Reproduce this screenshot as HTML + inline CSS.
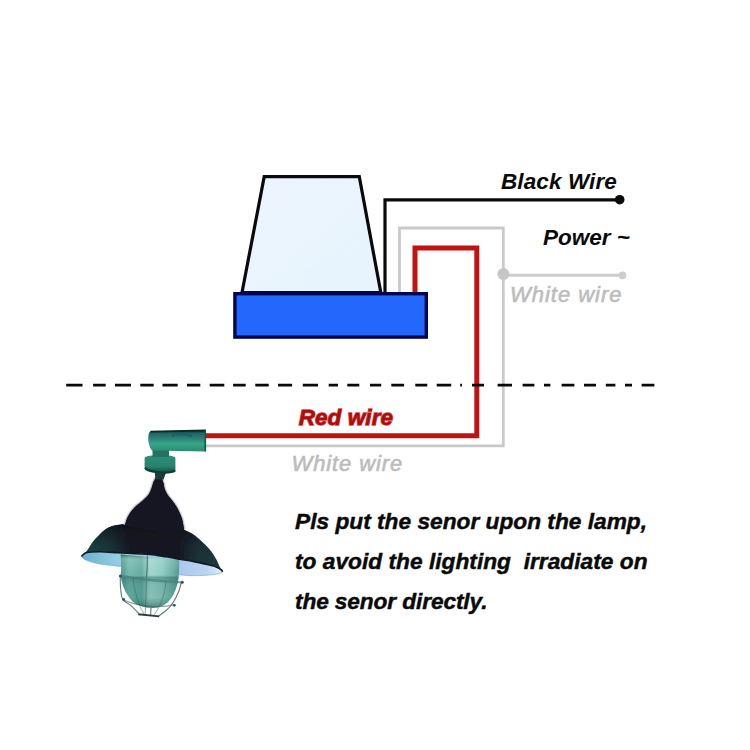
<!DOCTYPE html>
<html>
<head>
<meta charset="utf-8">
<title>Photocell sensor wiring diagram</title>
<style>
html,body{margin:0;padding:0;background:#fff;}
body{width:750px;height:750px;overflow:hidden;font-family:"Liberation Sans",sans-serif;}
svg{display:block;}
text{font-family:"Liberation Sans",sans-serif;font-weight:bold;font-style:italic;}
</style>
</head>
<body>
<svg width="750" height="750" viewBox="0 0 750 750">
<defs>
  <linearGradient id="cone" x1="0" y1="0" x2="1" y2="1">
    <stop offset="0" stop-color="#edf5fd"/>
    <stop offset="1" stop-color="#e6f4fd"/>
  </linearGradient>
  <linearGradient id="cyl" x1="0" y1="0" x2="0" y2="1">
    <stop offset="0" stop-color="#0b2b29"/>
    <stop offset="0.14" stop-color="#1d6663"/>
    <stop offset="0.4" stop-color="#2b8379"/>
    <stop offset="0.64" stop-color="#3aa688"/>
    <stop offset="1" stop-color="#298a70"/>
  </linearGradient>
  <filter id="soft" x="-10%" y="-10%" width="120%" height="120%"><feGaussianBlur stdDeviation="0.7"/></filter>
  <filter id="soft2" x="-10%" y="-10%" width="120%" height="120%"><feGaussianBlur stdDeviation="1.2"/></filter>
</defs>
<rect width="750" height="750" fill="#ffffff"/>

<!-- wires -->
<g fill="none" stroke-linejoin="miter">
  <!-- gray (white) wire -->
  <path d="M399.5 293 V228 H503.3 V445.9 H206" stroke="#c9c9c9" stroke-width="2.8"/>
  <path d="M503.3 275.2 H622" stroke="#cdcdcd" stroke-width="3"/>
  <!-- red wire -->
  <path d="M415 294 V248 H476.8 V435.8 H205" stroke="#c21313" stroke-width="5"/>
  <!-- black wire -->
  <path d="M385 293 V199.8 H619" stroke="#0a0a0a" stroke-width="3.2"/>
</g>
<circle cx="619.7" cy="199.7" r="4.8" fill="#0a0a0a"/>
<circle cx="503.4" cy="274" r="6" fill="#c6c6c6"/>
<circle cx="622.5" cy="275.4" r="3.8" fill="#cdcdcd"/>

<!-- sensor -->
<path d="M264.2 176.7 H359.3 L380.8 292.5 H242 Z" fill="url(#cone)" stroke="#0a0a0a" stroke-width="3.2" stroke-linejoin="miter"/>
<rect x="234.9" y="293.7" width="191.4" height="43.4" fill="#2467fc" stroke="#03044f" stroke-width="3.4"/>

<!-- dashed line -->
<path id="dash" d="M66.2 385.2H82.5M93.1 385.2H105.7M115 385.2H131M140.3 385.2H153.7M162.5 385.2H177.7M187 385.2H200.3M209.7 385.2H224.3M233.1 385.2H245.7M255.3 385.2H268.7M278 385.2H292.1M302.8 385.2H318M328.7 385.2H338M347.3 385.2H359.3M370 385.2H381.2M391.3 385.2H404.1M415.3 385.2H427.3M436.7 385.2H451.2M460.2 385.2H462M472 385.2H484M497.6 385.2H512M522.6 385.2H534.4M544 385.2H550.4M561.6 385.2H574.4M584 385.2H596M605.8 385.2H615.4M625 385.2H632M641.6 385.2H654.4" stroke="#0a0a0a" stroke-width="2.8" fill="none"/>

<!-- labels -->
<text x="501" y="189.3" font-size="22.5" fill="#0a0a0a" textLength="115.8">Black Wire</text>
<text x="543" y="245.2" font-size="22.5" fill="#0a0a0a">Power ~</text>
<text x="510" y="302.3" font-size="22" fill="#bcbcbc" style="font-weight:normal" textLength="111.5" stroke="#bcbcbc" stroke-width="0.6">White wire</text>
<text x="298.7" y="425.2" font-size="22.5" fill="#ab0d0d" stroke="#e04545" stroke-width="1.3" paint-order="stroke" textLength="94.3">Red wire</text>
<text x="291.5" y="470.8" font-size="22" fill="#bcbcbc" style="font-weight:normal" textLength="110.7" stroke="#bcbcbc" stroke-width="0.6">White wire</text>
<text x="295" y="529.2" font-size="22.7" fill="#0a0a0a" stroke="#0a0a0a" stroke-width="0.45" textLength="352">Pls put the senor upon the lamp,</text>
<text x="295" y="569" font-size="22.7" fill="#0a0a0a" stroke="#0a0a0a" stroke-width="0.45" textLength="352.5" xml:space="preserve">to avoid the lighting  irradiate on</text>
<text x="295" y="609" font-size="22.7" fill="#0a0a0a" stroke="#0a0a0a" stroke-width="0.45" textLength="192.5">the senor directly.</text>

<!-- lamp -->
<g id="lamp">
<defs>
  <linearGradient id="shade" gradientUnits="userSpaceOnUse" x1="82" y1="0" x2="222" y2="0">
    <stop offset="0" stop-color="#1e4e4a"/>
    <stop offset="0.2" stop-color="#173a3b"/>
    <stop offset="0.36" stop-color="#191723"/>
    <stop offset="0.68" stop-color="#191723"/>
    <stop offset="0.82" stop-color="#1d3238"/>
    <stop offset="1" stop-color="#203a3e"/>
  </linearGradient>
  <linearGradient id="shadeV" gradientUnits="userSpaceOnUse" x1="0" y1="524" x2="0" y2="572">
    <stop offset="0" stop-color="#0d0f18" stop-opacity="0.75"/>
    <stop offset="0.45" stop-color="#0d0f18" stop-opacity="0.15"/>
    <stop offset="0.8" stop-color="#0d0f18" stop-opacity="0"/>
  </linearGradient>
  <linearGradient id="inner" gradientUnits="userSpaceOnUse" x1="82" y1="0" x2="222" y2="0">
    <stop offset="0" stop-color="#6cb0d2"/>
    <stop offset="0.25" stop-color="#94cde2"/>
    <stop offset="0.7" stop-color="#aac8ee"/>
    <stop offset="0.9" stop-color="#bfd4f4"/>
    <stop offset="1" stop-color="#e4eefa"/>
  </linearGradient>
  <linearGradient id="glass" gradientUnits="userSpaceOnUse" x1="120" y1="0" x2="180" y2="0">
    <stop offset="0" stop-color="#468a82"/>
    <stop offset="0.15" stop-color="#6fb6aa"/>
    <stop offset="0.36" stop-color="#5fa89c"/>
    <stop offset="0.5" stop-color="#9fd6cb"/>
    <stop offset="0.7" stop-color="#8ccbc0"/>
    <stop offset="0.9" stop-color="#62a89c"/>
    <stop offset="1" stop-color="#4a8c84"/>
  </linearGradient>
  <linearGradient id="glassV" gradientUnits="userSpaceOnUse" x1="0" y1="555" x2="0" y2="608">
    <stop offset="0" stop-color="#1d4d4c" stop-opacity="0.55"/>
    <stop offset="0.08" stop-color="#d0ece8" stop-opacity="0.25"/>
    <stop offset="0.36" stop-color="#d0ece8" stop-opacity="0.05"/>
    <stop offset="0.42" stop-color="#2d6f6a" stop-opacity="0.5"/>
    <stop offset="0.55" stop-color="#2d6f6a" stop-opacity="0.25"/>
    <stop offset="0.8" stop-color="#2d6f6a" stop-opacity="0.2"/>
    <stop offset="1" stop-color="#245e5a" stop-opacity="0.65"/>
  </linearGradient>
  <linearGradient id="collar" x1="0" y1="0" x2="0" y2="1">
    <stop offset="0" stop-color="#2f8f78"/>
    <stop offset="0.6" stop-color="#2a836d"/>
    <stop offset="1" stop-color="#124840"/>
  </linearGradient>
</defs>
<g filter="url(#soft)">
  <path d="M81.4 556.4C82.3 555.8 83.6 553.4 86.7 552.6C89.8 551.8 94.8 551.8 100.0 551.8C105.2 551.8 111.9 552.4 117.7 552.7C123.5 553.0 129.6 553.5 135.0 553.8C140.4 554.1 144.8 553.9 150.0 554.4C155.2 554.9 161.0 556.0 166.0 556.8C171.0 557.6 175.6 558.5 180.0 559.3C184.4 560.1 188.4 560.6 192.7 561.4C196.9 562.2 201.6 563.2 205.5 564.1C209.4 565.0 213.4 565.9 216.1 566.9C218.8 567.9 220.4 569.2 221.5 570.0C222.6 570.8 222.4 571.6 222.6 571.9C222.4 572.0 222.9 572.2 221.5 572.6C220.1 573.0 217.9 574.0 214.0 574.5C210.1 575.0 203.5 575.5 198.0 575.6C192.5 575.7 189.0 575.8 181.0 575.0C173.0 574.2 160.2 572.4 150.0 571.0C139.8 569.6 127.0 567.5 119.8 566.5C112.6 565.5 110.9 565.5 107.0 565.0C103.1 564.5 99.8 564.1 96.3 563.3C92.8 562.5 88.2 561.1 85.7 560.0C83.2 558.9 82.1 557.0 81.4 556.4Z" fill="url(#inner)"/>
  <path d="M81.4 556.4C82.1 557.0 83.2 558.9 85.7 560.0C88.2 561.1 92.8 562.5 96.3 563.3C99.8 564.1 103.1 564.5 107.0 565.0C110.9 565.5 112.6 565.5 119.8 566.5C127.0 567.5 139.8 569.6 150.0 571.0C160.2 572.4 173.0 574.2 181.0 575.0C189.0 575.8 192.5 575.7 198.0 575.6C203.5 575.5 210.1 575.0 214.0 574.5C217.9 574.0 220.1 573.0 221.5 572.6C222.9 572.2 222.4 572.0 222.6 571.9" fill="none" stroke="#6aa6b8" stroke-width="0.8" opacity="0.7"/>
  <path d="M120.7 554.6C120.8 556.5 121.2 562.7 121.2 566.3C121.2 569.9 120.6 572.8 120.9 576.0C121.2 579.2 121.9 582.3 123.0 585.5C124.1 588.7 125.6 592.1 127.5 595.0C129.4 597.9 131.6 601.0 134.5 603.0C137.4 605.0 141.8 606.4 145.2 607.2C148.6 608.0 151.7 608.2 154.8 607.8C157.9 607.4 161.1 606.5 163.8 605.0C166.5 603.5 169.1 601.0 171.0 598.5C172.9 596.0 174.3 592.7 175.5 589.8C176.7 586.9 177.4 584.3 178.0 581.3C178.6 578.3 178.8 575.5 179.0 572.0C179.2 568.5 179.2 562.0 179.3 560.0Z" fill="url(#glass)"/>
  <path d="M120.7 554.6C120.8 556.5 121.2 562.7 121.2 566.3C121.2 569.9 120.6 572.8 120.9 576.0C121.2 579.2 121.9 582.3 123.0 585.5C124.1 588.7 125.6 592.1 127.5 595.0C129.4 597.9 131.6 601.0 134.5 603.0C137.4 605.0 141.8 606.4 145.2 607.2C148.6 608.0 151.7 608.2 154.8 607.8C157.9 607.4 161.1 606.5 163.8 605.0C166.5 603.5 169.1 601.0 171.0 598.5C172.9 596.0 174.3 592.7 175.5 589.8C176.7 586.9 177.4 584.3 178.0 581.3C178.6 578.3 178.8 575.5 179.0 572.0C179.2 568.5 179.2 562.0 179.3 560.0Z" fill="url(#glassV)"/>
  <g fill="none" stroke="#3d605d" stroke-width="1.1" opacity="0.85">
    <path d="M147.3 555.5 C147.4 565 147 572 146.6 577"/>
    <path d="M120.3 577.0C120.3 578.8 120.2 584.3 120.6 588.0C121.0 591.7 121.0 596.4 122.8 599.4C124.6 602.4 128.6 603.4 131.3 605.8C134.0 608.2 137.6 612.3 138.8 613.6"/>
    <path d="M181.5 582.0C181.0 583.7 179.8 588.8 178.5 592.0C177.2 595.2 175.4 598.6 174.0 601.0C172.6 603.4 171.4 604.8 170.0 606.5C168.6 608.2 167.4 609.4 165.5 611.0C163.6 612.6 159.7 615.2 158.5 616.0"/>
    <path d="M146.6 578 C146 592 145.5 604 145.2 614.5" opacity="0.6"/>
    <path d="M151 608 L150.6 615.5"/>
    <path d="M133 579 C135 594 139 606 144 614" opacity="0.5"/>
    <path d="M166 581 C165 595 160 607 154 615" opacity="0.5"/>
    <path d="M120.3 575.6 C135 578.5 165 581.5 182 582.4" stroke-width="2.2" stroke="#4a7f7a" opacity="0.8"/>
    <path d="M123 599.5 C135 606 160 609 174.5 604.5" stroke-width="1.3" opacity="0.7"/>
  </g>
  <path d="M138.2 614.2 L159.2 616.4" stroke="#2c3c3c" stroke-width="1.9" fill="none"/>
  <circle cx="120.4" cy="576" r="1.5" fill="#35524f"/>
  <circle cx="182.3" cy="582.3" r="1.5" fill="#35524f"/>
  <circle cx="123.6" cy="599.5" r="1.4" fill="#35524f"/>
  <circle cx="174.3" cy="605.3" r="1.4" fill="#35524f"/>
</g>
<g filter="url(#soft)">
  <path d="M81.4 556.4C82.3 555.5 84.9 553.2 86.7 551.0C88.5 548.8 90.2 545.4 92.0 543.0C93.8 540.6 95.2 538.9 97.4 536.7C99.6 534.5 102.4 531.5 104.9 529.7C107.4 527.9 109.6 526.9 112.3 526.0C115.0 525.1 118.8 524.6 120.9 524.4C123.0 524.2 124.3 524.9 125.0 525.0C125.4 523.8 126.4 520.0 127.4 517.8C128.4 515.6 129.5 513.8 131.0 511.8C132.5 509.8 134.5 507.6 136.4 505.8C138.3 504.0 140.4 502.8 142.4 501.0C144.4 499.2 146.9 497.0 148.4 495.0C149.9 493.0 150.6 491.0 151.4 489.0C152.2 487.0 152.4 485.0 153.2 483.0C154.0 481.0 155.7 478.0 156.2 477.0L161 477C161.4 478.0 162.8 481.0 163.4 483.0C164.0 485.0 163.9 487.0 164.6 489.0C165.3 491.0 166.3 493.0 167.6 495.0C168.9 497.0 170.9 499.0 172.4 501.0C173.9 503.0 175.4 505.0 176.6 507.0C177.8 509.0 178.7 511.0 179.6 513.0C180.5 515.0 181.2 516.2 182.0 519.0C182.8 521.8 183.8 527.9 184.1 529.7C185.5 530.4 189.8 532.1 192.7 534.0C195.5 535.9 198.4 538.4 201.2 541.0C204.0 543.6 207.2 546.5 209.7 549.5C212.2 552.5 214.4 556.2 216.1 559.0C217.8 561.8 218.5 564.4 219.6 566.5C220.7 568.6 222.1 571.0 222.6 571.9C222.4 571.6 222.6 570.8 221.5 570.0C220.4 569.2 218.8 567.9 216.1 566.9C213.4 565.9 209.4 565.0 205.5 564.1C201.6 563.2 196.9 562.2 192.7 561.4C188.4 560.6 184.4 560.1 180.0 559.3C175.6 558.5 171.0 557.6 166.0 556.8C161.0 556.0 155.2 554.9 150.0 554.4C144.8 553.9 140.4 554.1 135.0 553.8C129.6 553.5 123.5 553.0 117.7 552.7C111.9 552.4 105.2 551.8 100.0 551.8C94.8 551.8 89.8 551.8 86.7 552.6C83.6 553.4 82.3 555.8 81.4 556.4Z" fill="url(#shade)"/>
  <path d="M81.4 556.4C82.3 555.5 84.9 553.2 86.7 551.0C88.5 548.8 90.2 545.4 92.0 543.0C93.8 540.6 95.2 538.9 97.4 536.7C99.6 534.5 102.4 531.5 104.9 529.7C107.4 527.9 109.6 526.9 112.3 526.0C115.0 525.1 118.8 524.6 120.9 524.4C123.0 524.2 124.3 524.9 125.0 525.0C125.4 523.8 126.4 520.0 127.4 517.8C128.4 515.6 129.5 513.8 131.0 511.8C132.5 509.8 134.5 507.6 136.4 505.8C138.3 504.0 140.4 502.8 142.4 501.0C144.4 499.2 146.9 497.0 148.4 495.0C149.9 493.0 150.6 491.0 151.4 489.0C152.2 487.0 152.4 485.0 153.2 483.0C154.0 481.0 155.7 478.0 156.2 477.0L161 477C161.4 478.0 162.8 481.0 163.4 483.0C164.0 485.0 163.9 487.0 164.6 489.0C165.3 491.0 166.3 493.0 167.6 495.0C168.9 497.0 170.9 499.0 172.4 501.0C173.9 503.0 175.4 505.0 176.6 507.0C177.8 509.0 178.7 511.0 179.6 513.0C180.5 515.0 181.2 516.2 182.0 519.0C182.8 521.8 183.8 527.9 184.1 529.7C185.5 530.4 189.8 532.1 192.7 534.0C195.5 535.9 198.4 538.4 201.2 541.0C204.0 543.6 207.2 546.5 209.7 549.5C212.2 552.5 214.4 556.2 216.1 559.0C217.8 561.8 218.5 564.4 219.6 566.5C220.7 568.6 222.1 571.0 222.6 571.9C222.4 571.6 222.6 570.8 221.5 570.0C220.4 569.2 218.8 567.9 216.1 566.9C213.4 565.9 209.4 565.0 205.5 564.1C201.6 563.2 196.9 562.2 192.7 561.4C188.4 560.6 184.4 560.1 180.0 559.3C175.6 558.5 171.0 557.6 166.0 556.8C161.0 556.0 155.2 554.9 150.0 554.4C144.8 553.9 140.4 554.1 135.0 553.8C129.6 553.5 123.5 553.0 117.7 552.7C111.9 552.4 105.2 551.8 100.0 551.8C94.8 551.8 89.8 551.8 86.7 552.6C83.6 553.4 82.3 555.8 81.4 556.4Z" fill="url(#shadeV)"/>
</g>
<g filter="url(#soft2)">
  <path d="M125.0 525.0C125.4 523.8 126.4 520.0 127.4 517.8C128.4 515.6 129.5 513.8 131.0 511.8C132.5 509.8 134.5 507.6 136.4 505.8C138.3 504.0 140.4 502.8 142.4 501.0C144.4 499.2 146.9 497.0 148.4 495.0C149.9 493.0 150.6 491.0 151.4 489.0C152.2 487.0 152.4 485.0 153.2 483.0C154.0 481.0 155.7 478.0 156.2 477.0L161 477C161.4 478.0 162.8 481.0 163.4 483.0C164.0 485.0 163.9 487.0 164.6 489.0C165.3 491.0 166.3 493.0 167.6 495.0C168.9 497.0 170.9 499.0 172.4 501.0C173.9 503.0 175.4 505.0 176.6 507.0C177.8 509.0 178.7 511.0 179.6 513.0C180.5 515.0 181.2 516.2 182.0 519.0C182.8 521.8 183.8 527.9 184.1 529.7C170 533 140 530 125 525Z" fill="#191723"/>
</g>
<g filter="url(#soft)">
  <path d="M81.4 556.4C82.3 555.8 83.6 553.4 86.7 552.6C89.8 551.8 94.8 551.8 100.0 551.8C105.2 551.8 111.9 552.4 117.7 552.7C123.5 553.0 129.6 553.5 135.0 553.8C140.4 554.1 144.8 553.9 150.0 554.4C155.2 554.9 161.0 556.0 166.0 556.8C171.0 557.6 175.6 558.5 180.0 559.3C184.4 560.1 188.4 560.6 192.7 561.4C196.9 562.2 201.6 563.2 205.5 564.1C209.4 565.0 213.4 565.9 216.1 566.9C218.8 567.9 220.4 569.2 221.5 570.0C222.6 570.8 222.4 571.6 222.6 571.9" fill="none" stroke="#0e1a22" stroke-width="1.6"/>
  <!-- knot under collar -->
  <path d="M154.5 470 H167 L163.5 479.5 H155.5 Z" fill="#22383a"/>
  <!-- collar -->
  <path d="M144.6 458 C144.6 454 175.4 454 175.4 458 V470.5 C175.4 475.5 144.6 474 144.6 468.5 Z" fill="url(#collar)"/>
  <path d="M145 468 C150 472.5 170 474 175.3 470.5" fill="none" stroke="#0f3d36" stroke-width="2"/>
  <!-- neck -->
  <rect x="152.5" y="449" width="16.5" height="8" fill="#24735f"/>
  <!-- cylinder -->
  <path d="M150.5 431.3 L205.8 430.2 L206 451.5 L152 450.6 C149 447 148 442 148.3 437 C148.5 434 149.3 432 150.5 431.3 Z" fill="url(#cyl)"/>
  <path d="M150.5 431.6 L205.8 430.5" stroke="#0a2a26" stroke-width="1.8" fill="none"/>
  <path d="M205.3 430.5 V451.3" stroke="#17574b" stroke-width="1.6" fill="none"/>
  <path d="M172 435.5 C178 433.5 186 434 192 436" stroke="#1f5a66" stroke-width="2.4" fill="none" opacity="0.8"/>
</g>
</g>
</svg>
</body>
</html>
